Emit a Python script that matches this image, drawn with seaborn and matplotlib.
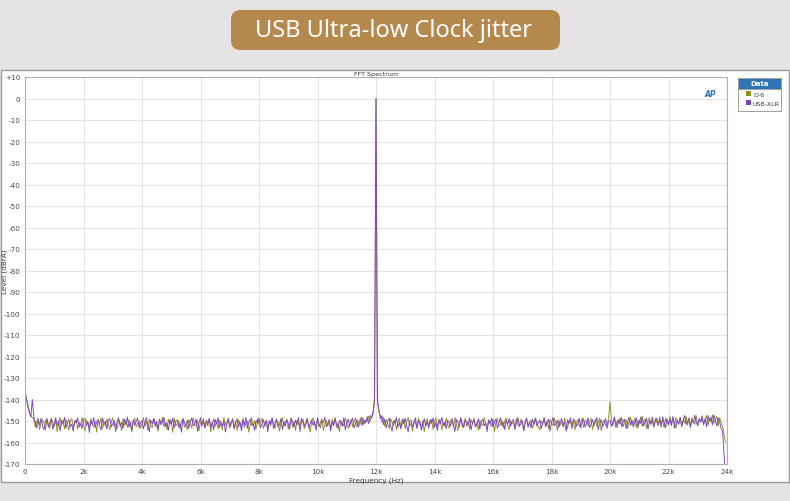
import numpy as np
import pandas as pd
import matplotlib
matplotlib.use("Agg")
import matplotlib.pyplot as plt
from matplotlib.patches import Rectangle, FancyBboxPatch, Patch
import seaborn as sns

# ---------------- data ----------------
bin_width_hz = 50  # FFT bins every 50 Hz from 0 Hz (rows of 16 bins = 800 Hz)

d6_levels = [
    -136.0, -139.2, -142.6, -145.4, -147.6, -148.4, -149.1, -152.8, -150.2, -148.6, -153.9, -151.1, -149.5, -150.8, -154.2, -149.0,
    -151.7, -153.3, -148.7, -150.9, -152.5, -149.8, -155.0, -151.2, -148.4, -152.0, -150.3, -153.6, -149.2, -151.5, -154.4, -150.0,
    -148.9, -152.7, -151.0, -149.4, -153.8, -150.6, -152.2, -148.3, -151.8, -154.7, -149.7, -150.9, -153.1, -148.8, -151.4, -152.9,
    -150.1, -155.2, -149.3, -151.6, -148.6, -153.4, -150.7, -152.3, -149.0, -151.9, -154.0, -150.4, -148.5, -152.6, -151.2, -153.7,
    -149.6, -150.8, -154.5, -148.9, -152.1, -150.0, -153.0, -149.4, -151.3, -155.1, -150.5, -148.7, -152.8, -151.0, -149.9, -153.5,
    -151.6, -148.4, -152.4, -150.2, -154.3, -149.1, -151.7, -153.2, -148.8, -150.6, -152.0, -154.8, -149.5, -151.1, -148.3, -152.7,
    -150.9, -153.9, -149.2, -151.5, -150.0, -155.3, -148.6, -152.2, -151.4, -149.7, -153.6, -150.3, -148.9, -152.9, -151.8, -154.1,
    -149.3, -150.7, -153.3, -148.5, -151.9, -152.5, -149.8, -154.6, -150.4, -151.2, -148.7, -153.0, -150.8, -152.3, -149.0, -155.0,
    -151.4, -148.9, -152.6, -150.1, -153.7, -149.6, -151.0, -154.2, -148.4, -152.0, -150.5, -149.3, -153.4, -151.6, -148.8, -152.8,
    -150.2, -154.5, -149.4, -151.3, -152.7, -148.6, -153.1, -150.9, -149.9, -155.2, -151.5, -148.5, -152.4, -150.0, -153.8, -149.1,
    -151.8, -150.4, -148.7, -153.5, -151.1, -149.5, -154.0, -150.6, -152.2, -148.9, -151.7, -153.3, -149.8, -150.3, -154.7, -151.0,
    -148.4, -152.5, -150.8, -149.2, -153.9, -151.4, -148.6, -152.9, -150.1, -154.4, -149.7, -151.2, -152.6, -148.8, -150.5, -153.6,
    -151.9, -149.0, -152.1, -155.1, -150.2, -148.5, -151.6, -153.2, -149.4, -152.7, -150.7, -148.9, -154.3, -151.3, -149.6, -152.4,
    -150.0, -153.8, -149.1, -151.5, -148.3, -152.8, -150.9, -154.9, -149.8, -151.1, -152.3, -148.7, -150.6, -153.5, -151.7, -149.2,
    -152.6, -150.3, -148.6, -153.0, -150.8, -149.3, -152.0, -148.5, -151.4, -149.7, -150.2, -147.8, -149.9, -148.1, -147.0, -141.5,
    0.0, -140.8, -145.9, -147.6, -150.4, -148.3, -152.5, -149.4, -151.2, -153.6, -148.8, -150.7, -152.2, -149.6, -154.1, -150.5,
    -148.7, -152.9, -151.3, -149.0, -153.7, -150.1, -148.4, -152.3, -151.0, -154.6, -149.5, -150.9, -153.1, -148.6, -151.8, -152.6,
    -149.9, -155.0, -150.6, -148.9, -152.1, -151.5, -149.2, -153.9, -150.3, -148.5, -152.7, -151.1, -149.6, -154.2, -150.8, -152.4,
    -148.8, -151.6, -153.4, -149.7, -150.4, -152.8, -148.3, -151.9, -154.5, -150.0, -149.1, -153.0, -151.4, -148.7, -152.5, -150.2,
    -153.8, -149.4, -151.2, -148.6, -152.9, -150.7, -154.3, -149.8, -151.5, -152.2, -148.4, -150.9, -153.5, -149.3, -151.0, -152.6,
    -149.0, -154.8, -150.5, -148.8, -152.3, -151.7, -149.5, -153.2, -150.1, -148.5, -152.0, -154.0, -149.7, -151.3, -150.6, -153.6,
    -148.9, -151.8, -152.7, -149.2, -150.3, -154.6, -151.1, -148.6, -152.4, -150.8, -149.6, -153.3, -151.6, -148.7, -150.4, -152.9,
    -154.2, -149.9, -151.4, -148.4, -152.6, -150.0, -153.7, -149.3, -151.2, -152.1, -148.8, -150.7, -154.4, -149.5, -151.9, -150.3,
    -152.8, -148.6, -151.0, -153.5, -149.8, -150.5, -152.2, -148.9, -154.1, -150.9, -149.4, -152.5, -151.3, -148.5, -153.0, -150.2,
    -149.7, -152.3, -150.8, -148.7, -153.9, -151.1, -149.2, -152.6, -150.4, -148.6, -154.5, -150.9, -149.5, -152.0, -151.6, -149.0,
    -141.0, -149.6, -152.4, -148.5, -150.7, -153.1, -149.1, -151.3, -148.3, -152.7, -150.2, -149.4, -153.4, -150.6, -148.2, -152.0,
    -150.9, -148.7, -153.0, -149.8, -151.5, -148.1, -152.5, -150.4, -149.0, -153.6, -150.1, -148.4, -151.8, -149.7, -152.9, -148.8,
    -150.6, -152.2, -148.0, -151.3, -149.5, -153.2, -148.6, -150.8, -152.0, -147.9, -151.0, -149.3, -153.4, -148.5, -150.2, -151.7,
    -148.3, -152.6, -149.6, -150.9, -147.8, -151.9, -149.0, -153.1, -148.4, -150.5, -151.6, -147.6, -152.3, -149.2, -150.7, -148.1,
    -151.4, -149.5, -147.5, -152.0, -148.7, -150.3, -147.2, -151.1, -149.3, -147.8, -152.4, -148.6, -150.8, -152.6, -156.5, -160.0,
]

usb_xlr_levels = [
    -136.5, -140.1, -143.8, -146.2, -148.1, -140.0, -147.9, -150.6, -153.2, -149.4, -151.8, -148.7, -152.5, -154.0, -150.1, -148.9,
    -152.9, -150.5, -149.1, -153.8, -151.3, -148.5, -152.2, -150.0, -154.6, -149.6, -151.1, -148.3, -153.3, -150.7, -149.4, -152.6,
    -151.5, -154.8, -149.8, -150.9, -148.6, -152.8, -151.2, -153.5, -149.3, -148.8, -152.1, -150.4, -155.3, -149.9, -151.7, -148.4,
    -153.0, -150.6, -149.2, -152.4, -154.2, -148.7, -151.0, -150.3, -153.7, -149.5, -148.9, -152.7, -151.4, -149.7, -154.9, -150.2,
    -148.5, -152.3, -150.8, -153.4, -149.0, -151.6, -148.2, -152.9, -150.5, -154.4, -149.4, -151.9, -150.0, -148.6, -153.2, -151.1,
    -149.8, -153.6, -150.7, -148.4, -152.0, -155.0, -149.6, -151.3, -148.8, -152.6, -150.2, -153.9, -149.1, -151.8, -150.4, -148.3,
    -152.5, -150.9, -154.3, -149.3, -151.5, -148.7, -153.1, -150.1, -149.5, -152.8, -151.0, -155.2, -148.9, -150.6, -152.3, -149.7,
    -153.5, -150.3, -148.6, -152.1, -151.7, -149.0, -154.7, -150.8, -148.4, -152.4, -150.0, -153.3, -149.6, -151.2, -148.8, -152.9,
    -150.5, -154.1, -149.2, -151.4, -148.5, -153.0, -150.7, -152.2, -149.9, -155.1, -151.6, -148.7, -152.6, -150.2, -149.4, -153.8,
    -151.0, -148.9, -152.7, -150.4, -154.5, -149.5, -151.9, -148.3, -153.4, -150.6, -149.1, -152.0, -151.3, -154.2, -149.7, -150.9,
    -148.6, -153.1, -151.5, -149.3, -152.4, -150.0, -155.0, -149.8, -151.2, -148.5, -153.6, -150.8, -149.0, -152.8, -151.7, -148.9,
    -154.0, -150.1, -152.3, -149.4, -151.0, -153.7, -148.7, -150.5, -152.9, -149.6, -151.8, -148.4, -154.8, -150.3, -149.2, -152.5,
    -150.7, -148.8, -153.2, -151.4, -149.5, -152.1, -150.2, -154.4, -148.6, -151.6, -153.0, -149.9, -150.8, -148.3, -152.7, -151.1,
    -149.3, -154.6, -150.4, -152.2, -148.9, -151.5, -153.5, -149.7, -150.6, -152.4, -148.5, -154.1, -150.9, -149.1, -152.6, -150.0,
    -148.7, -153.3, -151.2, -149.4, -152.8, -150.5, -148.2, -151.9, -149.6, -150.8, -148.0, -151.2, -147.4, -148.6, -145.6, -139.2,
    0.0, -140.2, -144.7, -148.9, -147.5, -151.7, -149.1, -153.2, -150.3, -148.6, -152.4, -154.7, -149.8, -151.0, -148.4, -152.9,
    -150.6, -153.8, -149.2, -151.4, -148.7, -152.2, -155.1, -150.0, -149.5, -152.7, -151.1, -148.5, -153.5, -150.4, -149.9, -154.3,
    -151.6, -148.9, -152.5, -150.2, -153.3, -149.4, -151.0, -148.6, -152.9, -150.7, -154.5, -149.1, -151.3, -148.3, -152.1, -150.5,
    -153.6, -149.7, -150.9, -152.4, -148.8, -151.8, -154.9, -149.3, -150.6, -152.8, -148.4, -151.2, -153.1, -149.8, -150.3, -152.0,
    -148.6, -154.2, -150.8, -149.5, -152.6, -151.4, -148.9, -153.7, -150.1, -149.2, -152.3, -150.9, -155.0, -149.6, -151.5, -148.7,
    -152.8, -150.4, -149.0, -153.4, -151.1, -148.5, -152.0, -150.6, -154.0, -149.4, -151.7, -148.8, -152.5, -150.2, -149.3, -153.9,
    -150.7, -148.4, -152.2, -151.5, -149.8, -154.4, -150.0, -148.9, -152.9, -150.3, -153.2, -149.1, -151.6, -148.6, -152.4, -150.8,
    -149.5, -153.5, -151.0, -148.7, -152.7, -150.5, -149.2, -154.6, -150.9, -148.3, -152.1, -151.3, -149.7, -153.0, -150.1, -148.8,
    -152.3, -150.6, -154.8, -149.4, -151.2, -148.5, -153.6, -150.0, -149.6, -152.5, -151.4, -148.7, -153.3, -150.4, -149.0, -152.8,
    -150.9, -148.6, -153.1, -151.7, -149.3, -152.2, -150.3, -148.4, -154.1, -150.8, -149.5, -152.6, -151.0, -148.9, -153.4, -150.2,
    -149.7, -152.4, -150.6, -148.1, -153.0, -149.8, -151.5, -148.6, -152.7, -150.0, -149.2, -153.5, -150.7, -148.3, -151.9, -149.5,
    -152.8, -150.3, -148.5, -153.2, -149.6, -151.1, -147.9, -152.3, -150.5, -148.8, -153.7, -149.9, -151.3, -148.2, -152.6, -150.1,
    -148.7, -151.8, -149.4, -152.9, -148.0, -150.6, -153.1, -148.9, -151.4, -149.2, -152.2, -147.8, -150.9, -153.3, -149.6, -151.2,
    -148.4, -152.5, -149.8, -147.5, -151.6, -150.2, -148.6, -152.8, -149.3, -151.0, -147.3, -150.7, -152.1, -148.8, -150.4, -147.6,
    -151.8, -149.0, -152.6, -147.4, -150.1, -148.3, -151.9, -147.1, -149.7, -152.2, -148.5, -150.6, -153.4, -155.0, -166.0, -176.0,
]

series_names = ["D-6", "USB-XLR"]
series_colors = {"D-6": "#8f8f18", "USB-XLR": "#7d42c6"}

x_ticks = [0, 2000, 4000, 6000, 8000, 10000, 12000, 14000, 16000, 18000, 20000, 22000, 24000]
x_tick_labels = ["0", "2k", "4k", "6k", "8k", "10k", "12k", "14k", "16k", "18k", "20k", "22k", "24k"]
y_ticks = list(range(10, -171, -10))
y_tick_labels = ["+10"] + [str(v) for v in range(0, -171, -10)]

# ---------------- build long table ----------------
freqs = np.arange(len(d6_levels)) * bin_width_hz
df = pd.concat([
    pd.DataFrame({"Frequency": freqs, "Level": d6_levels, "Data": "D-6"}),
    pd.DataFrame({"Frequency": freqs, "Level": usb_xlr_levels, "Data": "USB-XLR"}),
], ignore_index=True)

# ---------------- figure ----------------
sns.set_style("white")
plt.rcParams["font.family"] = ["DejaVu Sans"]

W, H = 790, 502
fig = plt.figure(figsize=(W / 100, H / 100), dpi=100)
fig.patch.set_facecolor("#e5e3e4")

def fx(px):
    return px / W

def fy(py):
    return 1 - py / H

# white chart panel (behind the axes)
fig.patches.append(Rectangle((fx(1), fy(483)), fx(788), (483 - 71) / H,
                             transform=fig.transFigure, facecolor="white",
                             edgecolor="#9a9a9a", linewidth=1.0, zorder=-10))

# title banner
fig.patches.append(FancyBboxPatch((fx(231), fy(51)), fx(329), 40 / H,
                                  boxstyle="round,pad=0,rounding_size=0.012",
                                  transform=fig.transFigure, facecolor="#b5884e",
                                  edgecolor="none", zorder=-5, mutation_aspect=790 / 502))
fig.text(fx(394), fy(31), "USB Ultra-low Clock jitter", color="white",
         fontsize=17, ha="center", va="center", family=["Noto Sans", "DejaVu Sans"])

ax = fig.add_axes([fx(25), fy(465), fx(727 - 25), (465 - 78) / H])
ax.set_facecolor("white")

sns.lineplot(data=df, x="Frequency", y="Level", hue="Data", hue_order=series_names,
             palette=series_colors, estimator=None, sort=False, linewidth=0.65,
             legend=False, ax=ax)

ax.set_xlim(0, 24000)
ax.set_ylim(-170, 10)
ax.set_xticks(x_ticks)
ax.set_xticklabels(x_tick_labels)
ax.set_yticks(y_ticks)
ax.set_yticklabels(y_tick_labels)
ax.tick_params(axis="both", labelsize=5.2, colors="#4a4a4a", length=2, width=0.5, pad=1.2)
ax.grid(True, color="#e3e3e3", linewidth=0.8)
ax.set_axisbelow(True)
for s in ax.spines.values():
    s.set_color("#b0b0b0")
    s.set_linewidth(0.8)
ax.set_xlabel("Frequency (Hz)", fontsize=5.2, color="#3a3a3a")
ax.set_ylabel("Level (dBrA)", fontsize=5.2, color="#3a3a3a")
ax.yaxis.set_label_coords((8.5 - 25) / 702, 0.5)
ax.xaxis.set_label_coords(0.5, -(478 - 465) / 387)
ax.set_title("FFT Spectrum", fontsize=4.6, color="#3a3a3a", pad=1.5)

# AP logo
ax.text(0.985, 0.97, "AP", transform=ax.transAxes, ha="right", va="top",
        fontsize=5.5, color="#2e75b6", fontweight="bold", style="italic")

# legend box
fig.patches.append(Rectangle((fx(738), fy(112)), fx(43), 33 / H, transform=fig.transFigure,
                             facecolor="white", edgecolor="#a0a0a0", linewidth=0.7, zorder=2))
fig.patches.append(Rectangle((fx(738), fy(90)), fx(43), 11 / H, transform=fig.transFigure,
                             facecolor="#2e75b6", edgecolor="#a0a0a0", linewidth=0.7, zorder=3))
fig.text(fx(759.5), fy(84.5), "Data", ha="center", va="center", fontsize=5,
         color="white", fontweight="bold", zorder=4)
handles = [Patch(facecolor=series_colors[n], edgecolor="none") for n in series_names]
leg = fig.legend(handles, series_names, loc="upper left",
                 bbox_to_anchor=(fx(744), fy(90)), frameon=False, fontsize=4.6,
                 handlelength=0.8, handleheight=0.8, handletextpad=0.3,
                 labelspacing=0.55, borderpad=0.3, borderaxespad=0)
for t in leg.get_texts():
    t.set_color("#3a3a3a")

fig.savefig("out.png", dpi=100, facecolor=fig.get_facecolor())
